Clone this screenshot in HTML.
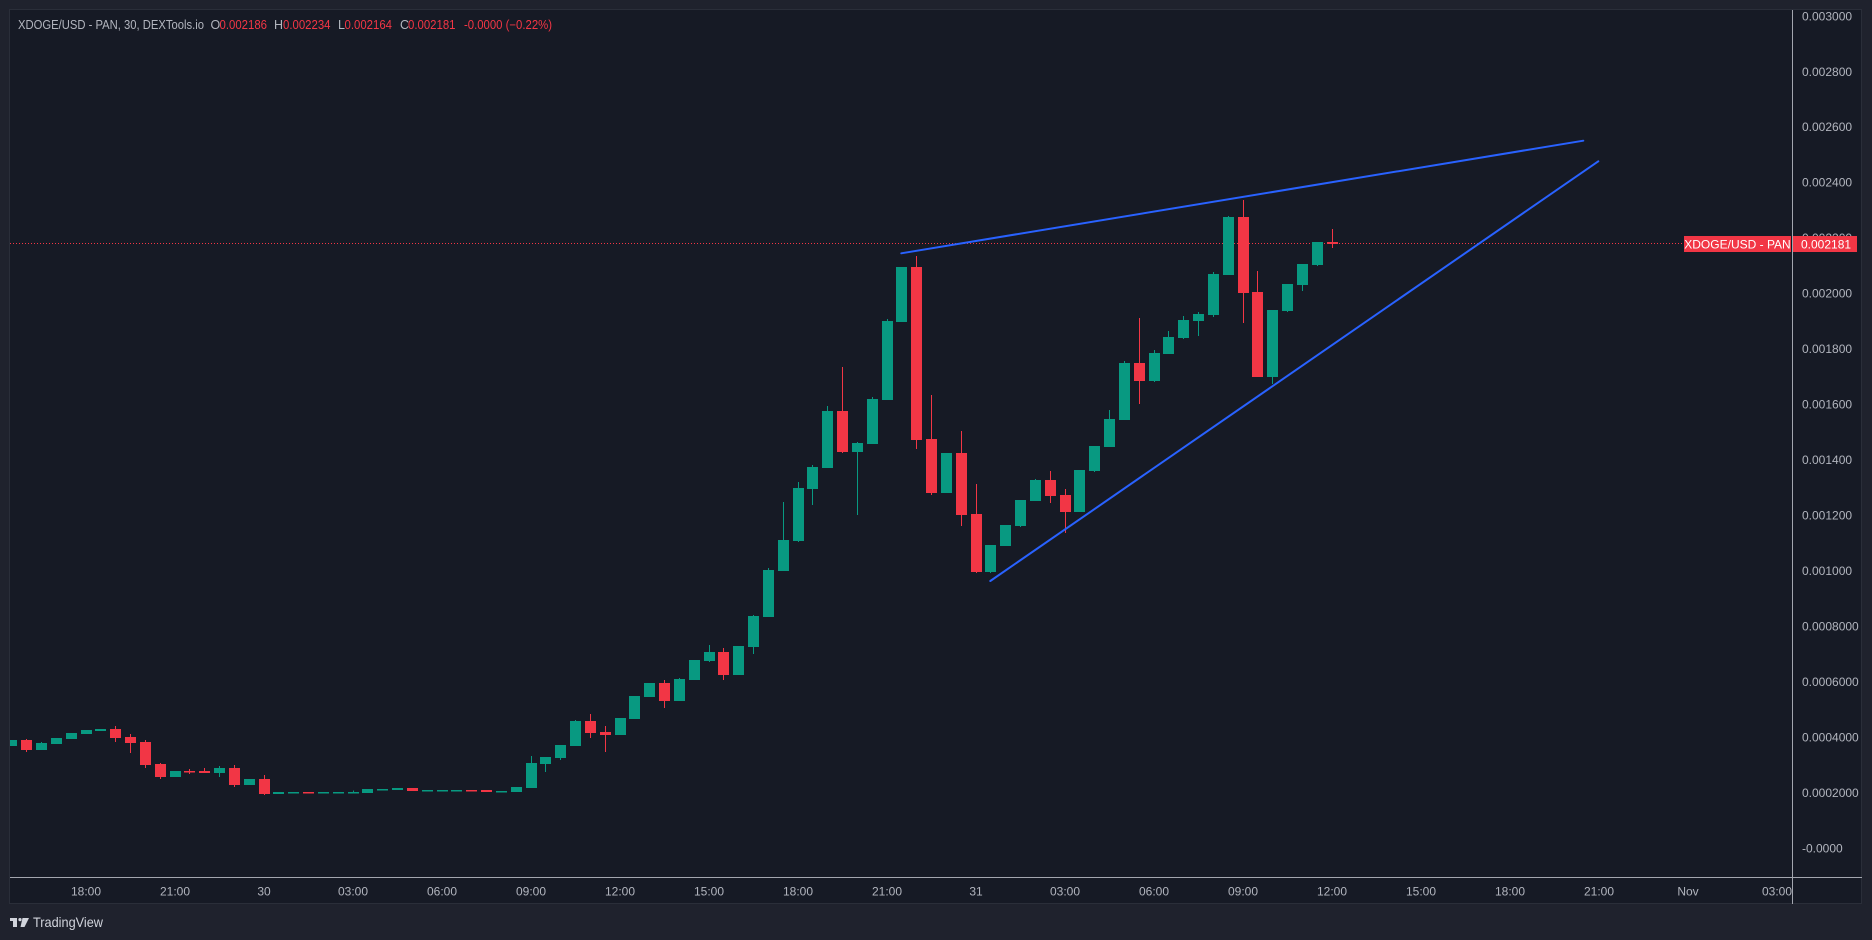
<!DOCTYPE html>
<html><head><meta charset="utf-8"><style>
html,body{margin:0;padding:0;background:#1f222d;}
svg{display:block;}
text{font-family:"Liberation Sans",sans-serif;}
</style></head><body>
<svg width="1872" height="940" viewBox="0 0 1872 940" xmlns="http://www.w3.org/2000/svg">
<defs><clipPath id="plot"><rect x="10" y="10" width="1782" height="867"/></clipPath></defs>
<rect x="0" y="0" width="1872" height="940" fill="#1f222d"/>
<rect x="9.5" y="9.5" width="1852" height="894" fill="#161a25" stroke="#2a2e39" stroke-width="1"/>

<!-- header -->
<g font-size="12.5">
<text x="18" y="29" fill="#b2b5be" textLength="186" lengthAdjust="spacingAndGlyphs">XDOGE/USD - PAN, 30, DEXTools.io</text>
<text x="210.5" y="29" fill="#b2b5be">O</text>
<text x="219.5" y="29" fill="#f23645" textLength="47.5" lengthAdjust="spacingAndGlyphs">0.002186</text>
<text x="274" y="29" fill="#b2b5be">H</text>
<text x="283" y="29" fill="#f23645" textLength="47.5" lengthAdjust="spacingAndGlyphs">0.002234</text>
<text x="338" y="29" fill="#b2b5be">L</text>
<text x="344.5" y="29" fill="#f23645" textLength="47.5" lengthAdjust="spacingAndGlyphs">0.002164</text>
<text x="400" y="29" fill="#b2b5be">C</text>
<text x="408" y="29" fill="#f23645" textLength="47.5" lengthAdjust="spacingAndGlyphs">0.002181</text>
<text x="464" y="29" fill="#f23645" textLength="88" lengthAdjust="spacingAndGlyphs">-0.0000 (−0.22%)</text>
</g>

<g clip-path="url(#plot)">
<!-- last price dotted line -->
<line x1="10" y1="243.5" x2="1684" y2="243.5" stroke="#f23645" stroke-width="1" stroke-dasharray="1,2"/>

<!-- green candles -->
<g fill="#089981">
<rect x="6" y="740" width="11" height="6"/>
<rect x="36" y="743" width="11" height="7"/><rect x="41" y="742" width="1" height="8"/>
<rect x="51" y="738" width="11" height="6"/>
<rect x="66" y="733" width="11" height="6"/>
<rect x="81" y="730" width="11" height="4"/>
<rect x="95" y="729" width="11" height="2"/>
<rect x="170" y="771" width="11" height="6"/>
<rect x="214" y="768" width="11" height="5"/><rect x="219" y="766" width="1" height="11"/>
<rect x="244" y="779" width="11" height="6"/>
<rect x="273" y="792" width="11" height="2"/>
<rect x="288" y="792" width="11" height="1.5"/>
<rect x="318" y="792" width="11" height="1.5"/>
<rect x="333" y="792" width="11" height="1.5"/>
<rect x="348" y="792" width="11" height="1.5"/><rect x="353" y="790.5" width="1" height="3"/>
<rect x="362" y="789" width="11" height="4"/>
<rect x="377" y="789" width="11" height="1.5"/>
<rect x="392" y="788" width="11" height="2"/>
<rect x="422" y="790" width="11" height="1.5"/>
<rect x="437" y="790" width="11" height="1.5"/>
<rect x="451" y="790" width="11" height="1.5"/>
<rect x="496" y="791" width="11" height="1.5"/>
<rect x="511" y="787" width="11" height="5"/>
<rect x="526" y="763" width="11" height="25"/><rect x="531" y="756" width="1" height="32"/>
<rect x="540" y="757" width="11" height="7"/><rect x="545" y="757" width="1" height="15"/>
<rect x="555" y="745" width="11" height="13"/><rect x="560" y="745" width="1" height="15"/>
<rect x="570" y="721" width="11" height="25"/><rect x="575" y="720" width="1" height="26"/>
<rect x="615" y="718" width="11" height="17"/>
<rect x="629" y="696" width="11" height="23"/>
<rect x="644" y="683" width="11" height="14"/>
<rect x="674" y="679" width="11" height="22"/><rect x="679" y="678" width="1" height="23"/>
<rect x="689" y="660" width="11" height="20"/>
<rect x="704" y="652" width="11" height="9"/><rect x="709" y="645" width="1" height="17"/>
<rect x="733" y="646" width="11" height="29"/>
<rect x="748" y="616" width="11" height="31"/><rect x="753" y="615" width="1" height="39"/>
<rect x="763" y="570" width="11" height="47"/><rect x="768" y="568" width="1" height="49"/>
<rect x="778" y="540" width="11" height="31"/><rect x="783" y="502" width="1" height="69"/>
<rect x="793" y="488" width="11" height="53"/><rect x="798" y="482" width="1" height="60"/>
<rect x="807" y="467" width="11" height="22"/><rect x="812" y="465" width="1" height="40"/>
<rect x="822" y="411" width="11" height="57"/><rect x="827" y="406" width="1" height="62"/>
<rect x="852" y="443" width="11" height="9"/><rect x="857" y="442" width="1" height="73"/>
<rect x="867" y="399" width="11" height="45"/><rect x="872" y="397" width="1" height="47"/>
<rect x="882" y="321" width="11" height="79"/><rect x="887" y="319" width="1" height="81"/>
<rect x="896" y="267" width="11" height="55"/>
<rect x="941" y="453" width="11" height="40"/>
<rect x="985" y="545" width="11" height="27"/><rect x="990" y="545" width="1" height="28"/>
<rect x="1000" y="525" width="11" height="21"/>
<rect x="1015" y="500" width="11" height="26"/><rect x="1020" y="500" width="1" height="27"/>
<rect x="1030" y="480" width="11" height="21"/><rect x="1035" y="479" width="1" height="22"/>
<rect x="1074" y="470" width="11" height="42"/>
<rect x="1089" y="446" width="11" height="25"/><rect x="1094" y="446" width="1" height="26"/>
<rect x="1104" y="419" width="11" height="28"/><rect x="1109" y="410" width="1" height="37"/>
<rect x="1119" y="363" width="11" height="57"/><rect x="1124" y="361" width="1" height="59"/>
<rect x="1149" y="353" width="11" height="28"/><rect x="1154" y="350" width="1" height="32"/>
<rect x="1163" y="337" width="11" height="17"/><rect x="1168" y="331" width="1" height="23"/>
<rect x="1178" y="320" width="11" height="18"/><rect x="1183" y="316" width="1" height="23"/>
<rect x="1193" y="314" width="11" height="7"/><rect x="1198" y="312" width="1" height="24"/>
<rect x="1208" y="274" width="11" height="41"/><rect x="1213" y="272" width="1" height="45"/>
<rect x="1223" y="217" width="11" height="58"/><rect x="1228" y="216" width="1" height="59"/>
<rect x="1267" y="310" width="11" height="67"/><rect x="1272" y="310" width="1" height="74"/>
<rect x="1282" y="284" width="11" height="27"/><rect x="1287" y="284" width="1" height="28"/>
<rect x="1297" y="264" width="11" height="21"/><rect x="1302" y="264" width="1" height="27"/>
<rect x="1312" y="242" width="11" height="23"/><rect x="1317" y="242" width="1" height="24"/>
</g>

<!-- red candles -->
<g fill="#f23645">
<rect x="21" y="740" width="11" height="10"/><rect x="26" y="739" width="1" height="13"/>
<rect x="110" y="729" width="11" height="9"/><rect x="115" y="726" width="1" height="16"/>
<rect x="125" y="737" width="11" height="6"/><rect x="130" y="734" width="1" height="19"/>
<rect x="140" y="742" width="11" height="23"/><rect x="145" y="740" width="1" height="28"/>
<rect x="155" y="764" width="11" height="13"/><rect x="160" y="763" width="1" height="16"/>
<rect x="184" y="771" width="11" height="1.5"/><rect x="189" y="769" width="1" height="5"/>
<rect x="199" y="771" width="11" height="2"/><rect x="204" y="768" width="1" height="5"/>
<rect x="229" y="768" width="11" height="17"/><rect x="234" y="765" width="1" height="22"/>
<rect x="259" y="779" width="11" height="15"/><rect x="264" y="775" width="1" height="20"/>
<rect x="303" y="792" width="11" height="1.5"/>
<rect x="407" y="788" width="11" height="3"/>
<rect x="466" y="790" width="11" height="1.5"/>
<rect x="481" y="790" width="11" height="2"/>
<rect x="585" y="721" width="11" height="12"/><rect x="590" y="714" width="1" height="24"/>
<rect x="600" y="732" width="11" height="3"/><rect x="605" y="726" width="1" height="26"/>
<rect x="659" y="683" width="11" height="18"/><rect x="664" y="680" width="1" height="28"/>
<rect x="718" y="652" width="11" height="23"/><rect x="723" y="648" width="1" height="32"/>
<rect x="837" y="411" width="11" height="41"/><rect x="842" y="367" width="1" height="86"/>
<rect x="911" y="267" width="11" height="173"/><rect x="916" y="256" width="1" height="193"/>
<rect x="926" y="439" width="11" height="54"/><rect x="931" y="395" width="1" height="100"/>
<rect x="956" y="453" width="11" height="62"/><rect x="961" y="431" width="1" height="95"/>
<rect x="971" y="514" width="11" height="58"/><rect x="976" y="484" width="1" height="89"/>
<rect x="1045" y="480" width="11" height="16"/><rect x="1050" y="471" width="1" height="32"/>
<rect x="1060" y="495" width="11" height="17"/><rect x="1065" y="489" width="1" height="44"/>
<rect x="1134" y="363" width="11" height="18"/><rect x="1139" y="318" width="1" height="86"/>
<rect x="1238" y="217" width="11" height="76"/><rect x="1243" y="200" width="1" height="123"/>
<rect x="1252" y="292" width="11" height="85"/><rect x="1257" y="271" width="1" height="106"/>
<rect x="1327" y="242" width="11" height="2"/><rect x="1332" y="229" width="1" height="19"/>
</g>

<!-- trend lines -->
<line x1="901.3" y1="253.3" x2="1583.3" y2="140.7" stroke="#2962ff" stroke-width="2" stroke-linecap="round"/>
<line x1="990.3" y1="581" x2="1598.3" y2="161.3" stroke="#2962ff" stroke-width="2" stroke-linecap="round"/>
</g>

<!-- price axis labels -->
<g font-size="12" fill="#b2b5be">
<text x="1802" y="20.3">0.003000</text>
<text x="1802" y="75.8">0.002800</text>
<text x="1802" y="131.2">0.002600</text>
<text x="1802" y="186.7">0.002400</text>
<text x="1802" y="242.1">0.002200</text>
<text x="1802" y="297.6">0.002000</text>
<text x="1802" y="353.1">0.001800</text>
<text x="1802" y="408.6">0.001600</text>
<text x="1802" y="464">0.001400</text>
<text x="1802" y="519.5">0.001200</text>
<text x="1802" y="575">0.001000</text>
<text x="1802" y="630.4">0.0008000</text>
<text x="1802" y="685.9">0.0006000</text>
<text x="1802" y="741.4">0.0004000</text>
<text x="1802" y="796.8">0.0002000</text>
<text x="1802" y="852.3">-0.0000</text>
</g>

<!-- time axis labels -->
<g font-size="12" fill="#b2b5be" text-anchor="middle">
<text x="86" y="895.3">18:00</text>
<text x="175" y="895.3">21:00</text>
<text x="264" y="895.3">30</text>
<text x="353" y="895.3">03:00</text>
<text x="442" y="895.3">06:00</text>
<text x="531" y="895.3">09:00</text>
<text x="620" y="895.3">12:00</text>
<text x="709" y="895.3">15:00</text>
<text x="798" y="895.3">18:00</text>
<text x="887" y="895.3">21:00</text>
<text x="976" y="895.3">31</text>
<text x="1065" y="895.3">03:00</text>
<text x="1154" y="895.3">06:00</text>
<text x="1243" y="895.3">09:00</text>
<text x="1332" y="895.3">12:00</text>
<text x="1421" y="895.3">15:00</text>
<text x="1510" y="895.3">18:00</text>
<text x="1599" y="895.3">21:00</text>
<text x="1688" y="895.3">Nov</text>
<text x="1777" y="895.3">03:00</text>
</g>

<!-- separators -->
<line x1="1792.5" y1="10" x2="1792.5" y2="904" stroke="#a3a6af" stroke-width="1"/>
<line x1="10" y1="877.5" x2="1862" y2="877.5" stroke="#a3a6af" stroke-width="1"/>

<!-- price tags -->
<rect x="1684" y="236" width="107" height="16" fill="#f23645"/>
<text x="1737.5" y="248.3" font-size="12" fill="#ffffff" text-anchor="middle">XDOGE/USD - PAN</text>
<rect x="1793" y="236" width="64" height="16" fill="#f23645"/>
<text x="1801" y="248.3" font-size="12" fill="#ffffff">0.002181</text>

<!-- TradingView logo -->
<g fill="#d1d4dc">
<rect x="10" y="918" width="7" height="3"/>
<rect x="13" y="918" width="4" height="9"/>
<circle cx="20" cy="919.6" r="1.6"/>
<polygon points="22.5,918 29,918 24.5,927 20.5,927"/>
</g>
<text x="33" y="927" font-size="14" fill="#d1d4dc" textLength="70" lengthAdjust="spacingAndGlyphs">TradingView</text>
</svg>
</body></html>
